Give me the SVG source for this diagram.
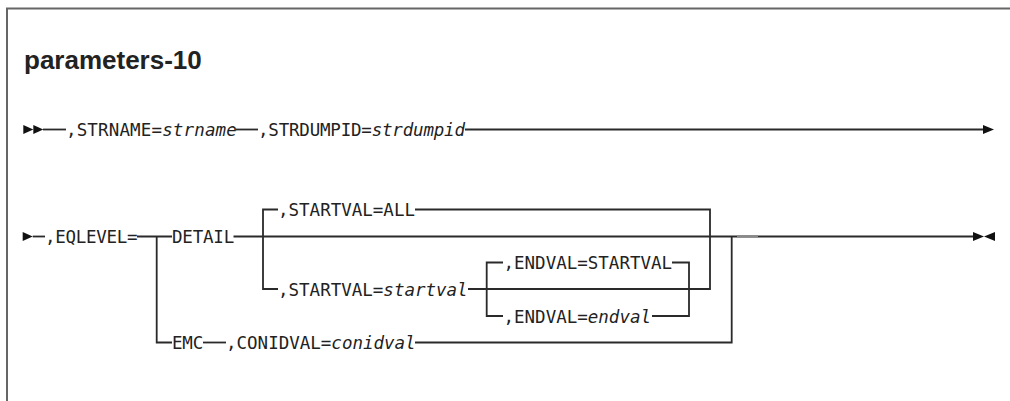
<svg xmlns="http://www.w3.org/2000/svg" width="1010" height="401" viewBox="0 0 1010 401">
<defs>
<style>
.frame{fill:none;stroke:#666;stroke-width:2}
.title{font-family:"Liberation Sans",Arial,sans-serif;font-weight:bold;font-size:26px;fill:#222}
.t{font-family:"DejaVu Sans Mono","Liberation Mono",monospace;font-size:17.5px;fill:#222}
.v{font-style:italic}
.ln{fill:none;stroke:#2a2a2a;stroke-width:1.8;stroke-linejoin:miter;stroke-linecap:butt}
.ah{fill:#111}
.art{stroke:#8a8a8a;stroke-width:2.2}
</style>
</defs>
<rect width="1010" height="401" fill="#fff"/>
<path class="frame" d="M7 401 V8.5 H1010"/>
<text class="title" x="24" y="69">parameters-10</text>

<g id="connectors">
  <!-- row 1 -->
  <polygon class="ah" points="23.3,125 33.3,129.5 23.3,134"/>
  <polygon class="ah" points="33.3,125 43.3,129.5 33.3,134"/>
  <path class="ln" d="M43 129.5 H66"/>
  <path class="ln" d="M236 129.5 H258"/>
  <path class="ln" d="M465 129.5 H984"/>
  <polygon class="ah" points="983,125 994,129.5 983,134"/>
  <!-- row 2 -->
  <polygon class="ah" points="22.7,232 32.7,236.5 22.7,241"/>
  <path class="ln" d="M32.7 236.5 H45"/>
  <path class="ln" d="M137 236.5 H172"/>
  <path class="ln" d="M156.7 236.5 V342.5 H172"/>
  <path class="ln" d="M233.5 236.5 H974"/>
  <polygon class="ah" points="973,232 984,236.5 973,241"/>
  <polygon class="ah" points="995,232 984,236.5 995,241"/>
  <!-- STARTVAL branch -->
  <path class="ln" d="M278 209.5 H263 V289 H278"/>
  <path class="ln" d="M415 209.5 H710 V289 H468"/>
  <!-- ENDVAL branch -->
  <path class="ln" d="M503 262.5 H486.7 V316 H503"/>
  <path class="ln" d="M672 262.5 H689 V316 H652"/>
  <!-- EMC path -->
  <path class="ln" d="M203 342.5 H226"/>
  <path class="ln" d="M415 342.5 H731.7 V236.5"/>
  <path class="art" d="M737 236.3 H758"/>
</g>

<g id="n_strname"><text class="t" x="66" y="136" letter-spacing="0.15">,STRNAME=<tspan class="v">strname</tspan></text></g>
<g id="n_strdumpid"><text class="t" x="258" y="136" letter-spacing="-0.2">,STRDUMPID=<tspan class="v">strdumpid</tspan></text></g>
<g id="n_eqlevel"><text class="t" x="45" y="243" letter-spacing="-0.3">,EQLEVEL=</text></g>
<g id="n_detail"><text class="t" x="172" y="243" letter-spacing="-0.2">DETAIL</text></g>
<g id="n_emc"><text class="t" x="172" y="349" letter-spacing="-0.2">EMC</text></g>
<g id="n_conidval"><text class="t" x="226" y="349">,CONIDVAL=<tspan class="v">conidval</tspan></text></g>
<g id="n_startval_all"><text class="t" x="278" y="216">,STARTVAL=ALL</text></g>
<g id="n_startval_var"><text class="t" x="278" y="295.5">,STARTVAL=<tspan class="v">startval</tspan></text></g>
<g id="n_endval_default"><text class="t" x="503.5" y="269">,ENDVAL=STARTVAL</text></g>
<g id="n_endval_var"><text class="t" x="503.5" y="322.5">,ENDVAL=<tspan class="v">endval</tspan></text></g>
</svg>
